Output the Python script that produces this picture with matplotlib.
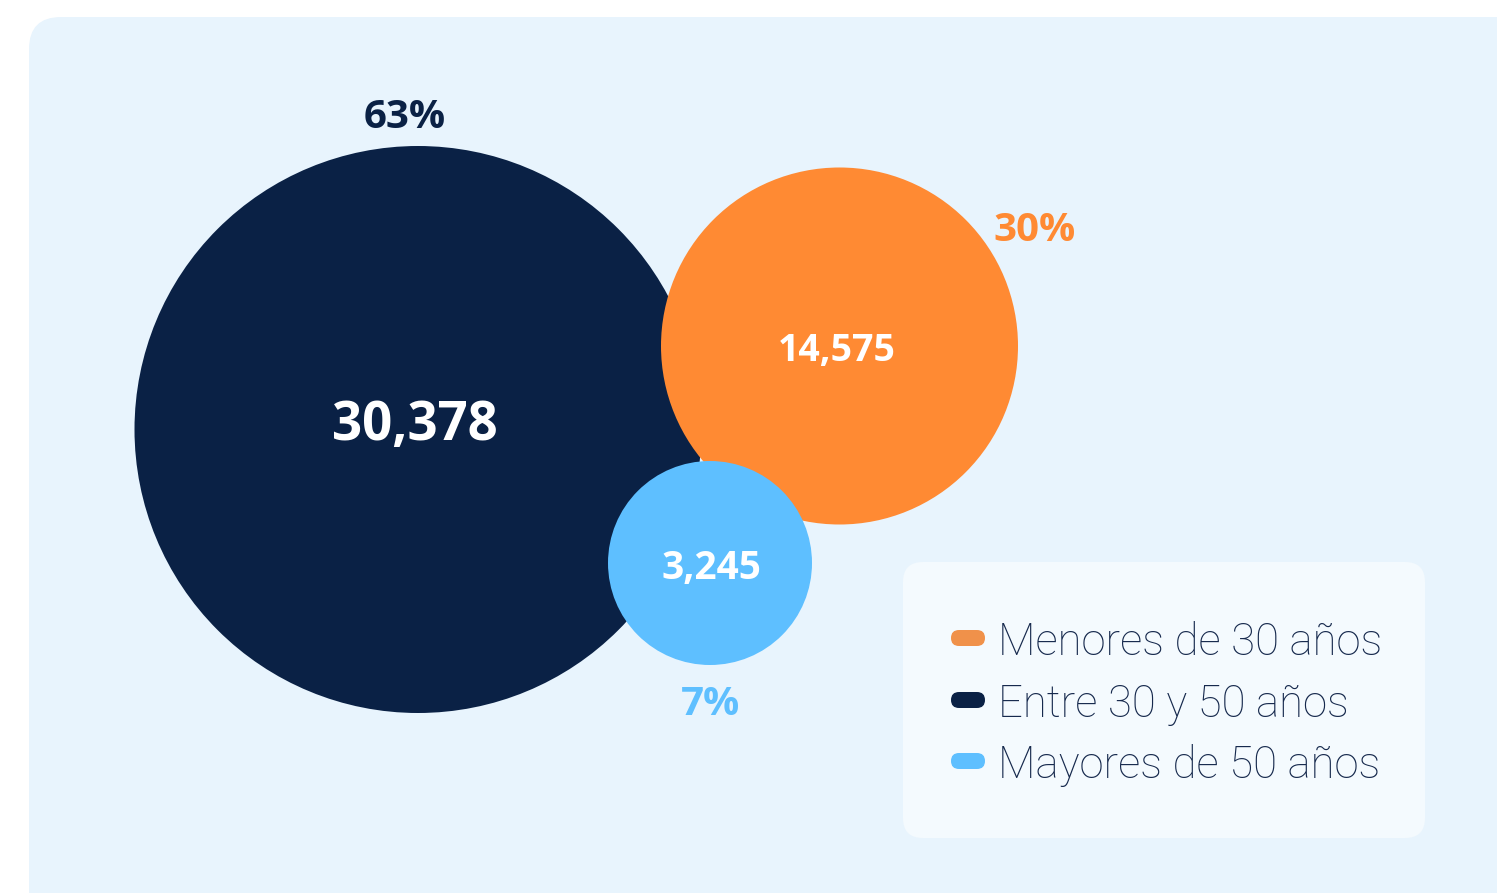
import matplotlib
matplotlib.use("Agg")
import matplotlib.pyplot as plt
from matplotlib.patches import Circle, FancyBboxPatch

# ---- data ----
categories = ["Menores de 30 años", "Entre 30 y 50 años", "Mayores de 50 años"]
values = [14575, 30378, 3245]
percents = [30, 63, 7]

# ---- styles / layout ----
circle_colors = ["#FF8A33", "#0A2145", "#5EBFFF"]
legend_colors = ["#F0914A", "#0A2145", "#5EBFFF"]
centers = [(839.5, 346), (418, 429.5), (710, 563)]
radii = [178.5, 283.5, 102]
value_sizes = [27, 38, 28]
value_dy = [1, -10, 1]
value_dx = [-3, -3, 1]
pct_pos = [(1035, 226), (405, 113), (711, 700)]
draw_order = [1, 0, 2]

W, H = 1497, 893
fig = plt.figure(figsize=(W / 100, H / 100), dpi=100)
ax = fig.add_axes([0, 0, 1, 1])
ax.set_xlim(0, W)
ax.set_ylim(H, 0)
ax.axis("off")
fig.patch.set_facecolor("white")

# background panel
ax.add_patch(FancyBboxPatch((29, 17), W + 100, H + 100,
                            boxstyle="round,pad=0,rounding_size=32",
                            fc="#E8F4FD", ec="none", zorder=0))

bold = "Open Sans"
for z, i in enumerate(draw_order):
    cx, cy = centers[i]
    ax.add_patch(Circle((cx, cy), radii[i], fc=circle_colors[i], ec="none", zorder=2 + z))
    ax.text(cx + value_dx[i], cy + value_dy[i], f"{values[i]:,}", ha="center",
            va="center_baseline", color="white", fontsize=value_sizes[i],
            fontweight="bold", family=bold, zorder=10)
    px, py = pct_pos[i]
    ax.text(px, py, f"{percents[i]}%", ha="center", va="center_baseline",
            color=circle_colors[i], fontsize=29, fontweight="bold",
            family=bold, zorder=10)

# legend box
ax.add_patch(FancyBboxPatch((903, 562), 522, 276,
                            boxstyle="round,pad=0,rounding_size=20",
                            fc="#F4FAFE", ec="none", zorder=1))
leg_y = [638, 700, 761]
for i, lab in enumerate(categories):
    y = leg_y[i]
    ax.add_patch(FancyBboxPatch((951, y - 8), 34, 16,
                                boxstyle="round,pad=0,rounding_size=8",
                                fc=legend_colors[i], ec="none", zorder=12))
    ax.text(998, y, lab, ha="left", va="center_baseline", color="#16294D",
            fontsize=31.5, fontweight="light", family="Roboto", zorder=12)

fig.savefig("out.png", dpi=100, facecolor="white")
